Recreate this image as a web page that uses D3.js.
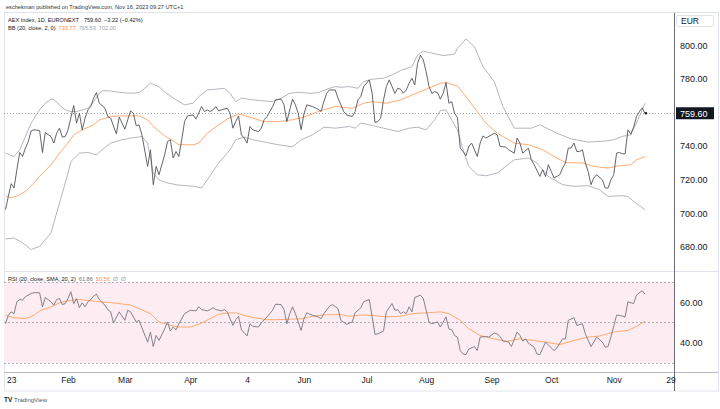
<!DOCTYPE html>
<html>
<head>
<meta charset="utf-8">
<script src="https://cdn.jsdelivr.net/npm/d3@7"></script>
<style>
body { margin: 0; background: #fff; }
text { font-family: "Liberation Sans", Arial, sans-serif; }
</style>
</head>
<body>
<svg id="chart" width="720" height="409"></svg>
<script>
// AEX daily close, bar index counted from Jan 2 2023 (trading days)
const closePoints = [[0,702.1],[1,710.0],[2,717.6],[3,715.0],[4,725.9],[5,736.2],[6,733.8],[7,738.8],[8,742.7],[9,749.1],[10,749.7],[12,749.3],[13,736.2],[14,748.1],[16,745.7],[17,741.8],[18,747.7],[19,750.7],[20,745.4],[21,745.7],[22,749.7],[24,764.2],[25,753.7],[26,759.6],[27,749.7],[28,756.7],[29,761.6],[30,763.6],[31,768.6],[32,771.9],[33,765.6],[35,762.6],[36,757.6],[37,756.7],[39,747.3],[40,757.3],[42,750.1],[43,755.7],[44,761.0],[45,759.6],[46,752.1],[47,752.7],[48,746.7],[50,727.9],[51,737.8],[52,717.0],[53,727.9],[54,722.9],[56,734.8],[57,742.7],[58,743.8],[59,732.9],[60,736.8],[61,733.8],[62,743.8],[63,754.6],[64,758.0],[66,758.6],[67,756.1],[69,763.6],[70,760.6],[71,761.6],[72,760.6],[73,761.6],[74,763.6],[75,761.0],[76,761.6],[78,762.6],[79,759.6],[80,750.7],[81,754.6],[82,758.0],[83,746.7],[84,744.8],[85,741.8],[86,751.7],[87,749.7],[89,748.7],[90,750.7],[91,755.7],[92,757.6],[94,763.6],[95,767.6],[97,768.0],[98,764.6],[99,754.6],[100,761.6],[101,768.0],[102,764.6],[103,759.6],[104,749.7],[105,759.2],[106,764.6],[108,763.6],[110,762.0],[111,760.6],[112,766.5],[113,771.5],[114,773.5],[116,773.5],[117,768.6],[119,760.6],[120,758.6],[122,757.6],[123,760.6],[124,767.6],[125,769.5],[126,775.5],[128,779.5],[129,771.5],[130,754.1],[131,754.6],[132,756.7],[133,767.6],[134,775.5],[135,779.5],[136,775.5],[137,771.5],[138,774.5],[139,773.9],[140,771.5],[141,773.5],[142,777.5],[143,780.5],[144,776.5],[145,789.4],[146,794.3],[147,791.4],[148,784.4],[149,775.5],[150,771.5],[151,772.5],[152,771.9],[153,768.0],[154,771.5],[155,777.9],[156,765.6],[157,766.5],[158,759.6],[159,757.0],[160,738.8],[161,736.8],[162,734.2],[163,739.8],[164,741.8],[166,733.8],[167,741.8],[168,746.1],[169,744.8],[171,746.7],[172,747.7],[173,746.7],[174,739.8],[176,739.4],[177,737.8],[179,735.8],[180,744.8],[181,741.8],[182,735.8],[184,738.8],[185,731.8],[186,728.9],[188,721.9],[189,725.9],[190,721.9],[191,728.9],[192,724.9],[193,721.0],[195,722.9],[196,726.9],[197,729.9],[198,738.8],[199,738.8],[200,741.8],[201,736.8],[202,736.8],[203,737.8],[204,729.9],[205,724.9],[206,717.0],[207,721.0],[208,722.9],[210,719.9],[211,715.0],[212,715.0],[213,719.9],[214,722.9],[215,735.8],[216,736.2],[217,735.4],[218,735.4],[219,749.7],[220,747.1],[221,751.3],[222,757.6],[223,760.5],[224,762.8],[225,759.6]];

// Bollinger bands (20, 2)
const upperPoints = [[0,735.8],[3,733.8],[5,737.8],[7,745.7],[9,753.7],[12,761.6],[14,765.6],[16,768.0],[17,767.6],[19,764.6],[21,761.6],[23,760.6],[25,760.6],[27,761.6],[29,762.6],[31,766.5],[33,771.5],[34,773.1],[37,772.9],[40,772.1],[44,771.5],[47,771.9],[49,774.5],[51,777.5],[54,775.5],[56,772.3],[60,767.6],[63,764.6],[66,765.6],[68,769.5],[71,773.5],[74,773.9],[77,774.5],[79,771.5],[81,766.5],[83,768.6],[87,767.6],[90,767.1],[94,766.5],[97,768.6],[100,771.5],[103,772.1],[107,771.5],[110,771.9],[114,774.5],[116,775.5],[118,775.1],[121,775.5],[124,774.5],[126,778.5],[129,779.9],[133,780.5],[136,782.4],[139,785.1],[143,787.4],[145,794.3],[147,796.7],[150,795.5],[154,794.0],[158,794.9],[159,798.3],[162,803.9],[165,799.3],[168,787.4],[172,778.3],[175,763.6],[179,750.7],[185,750.7],[188,752.7],[194,747.7],[199,744.3],[205,742.4],[211,743.0],[214,743.8],[217,745.8],[220,746.7],[222,753.7],[225,765.53]];
const basisPoints = [[0,710.4],[2,709.1],[5,711.0],[7,713.0],[10,718.0],[12,721.9],[16,728.9],[19,735.8],[22,741.8],[24,746.7],[27,749.7],[31,752.7],[33,755.7],[37,757.6],[40,758.0],[44,758.0],[47,758.0],[50,755.7],[52,751.7],[56,746.1],[58,744.2],[61,740.8],[66,740.8],[68,741.8],[71,747.7],[75,752.7],[78,756.1],[82,759.2],[87,756.7],[91,754.6],[96,754.6],[101,755.7],[105,757.3],[110,760.6],[116,763.6],[119,763.0],[122,762.6],[126,765.6],[129,766.5],[134,765.6],[139,767.6],[143,770.5],[148,773.9],[153,777.5],[155,777.9],[159,775.9],[162,769.5],[166,760.6],[169,753.7],[173,747.7],[176,744.8],[179,741.8],[184,740.8],[189,737.8],[193,733.8],[197,730.2],[203,729.9],[207,727.9],[212,726.9],[216,728.3],[220,728.9],[222,731.8],[225,733.77]];
const lowerPoints = [[0,684.6],[3,685.2],[6,682.3],[9,678.3],[12,680.2],[16,688.2],[18,700.1],[20,712.0],[22,723.9],[23,730.8],[26,735.8],[29,736.2],[32,734.8],[34,737.8],[37,741.8],[41,743.8],[44,744.8],[48,745.7],[50,741.8],[52,723.9],[54,719.9],[57,718.0],[61,716.7],[66,716.1],[69,715.0],[71,719.9],[75,729.9],[79,737.8],[81,743.8],[84,745.4],[87,743.8],[96,740.8],[101,739.6],[104,743.8],[108,746.7],[112,751.3],[116,750.7],[121,751.7],[123,750.7],[125,753.7],[128,752.7],[133,750.7],[138,748.7],[142,750.7],[145,751.3],[148,749.7],[151,755.7],[153,761.2],[155,761.6],[156,758.6],[159,749.7],[161,737.8],[163,727.9],[166,722.9],[169,722.3],[173,723.9],[176,727.9],[179,731.8],[184,732.9],[187,729.9],[191,721.9],[196,717.0],[200,716.0],[205,716.4],[209,714.0],[212,710.0],[217,710.4],[219,710.0],[221,707.0],[225,702.0]];

// RSI (20) and its SMA (20)
const rsiPoints = [[0,49.3],[1,53.5],[2,55.2],[3,54.3],[4,60.2],[5,61.3],[6,61.0],[7,62.7],[9,64.3],[10,64.7],[12,64.7],[13,57.7],[14,62.3],[16,60.2],[17,58.5],[18,61.3],[19,61.8],[20,58.8],[21,59.3],[22,61.8],[23,65.2],[24,59.3],[25,61.8],[26,57.3],[27,59.7],[28,57.7],[29,60.2],[30,61.3],[31,63.0],[32,64.0],[33,61.3],[35,58.5],[36,56.3],[37,55.2],[38,49.7],[40,55.2],[42,51.0],[43,56.0],[44,55.2],[46,50.2],[47,51.0],[48,47.3],[50,40.2],[51,45.2],[52,38.0],[53,43.5],[54,41.0],[56,46.8],[57,50.2],[58,45.7],[59,47.7],[60,46.3],[61,49.3],[63,54.3],[65,56.0],[67,55.7],[68,57.7],[69,56.3],[71,55.7],[72,56.3],[73,57.3],[74,56.3],[76,55.7],[77,56.3],[78,55.2],[80,48.5],[81,51.3],[82,53.0],[83,46.3],[85,43.3],[86,49.3],[87,48.0],[89,47.7],[90,49.7],[92,52.7],[94,56.0],[95,59.0],[97,58.8],[98,56.3],[99,49.3],[100,54.3],[101,57.7],[102,54.3],[104,46.0],[105,51.7],[106,54.7],[108,53.5],[110,52.7],[111,51.8],[112,54.3],[114,58.0],[115,58.8],[117,56.8],[118,51.0],[120,49.0],[122,50.2],[123,54.7],[125,57.2],[126,60.2],[128,61.3],[130,44.0],[131,44.3],[133,45.7],[134,55.2],[136,59.3],[137,56.0],[138,56.3],[139,54.3],[140,55.2],[141,54.3],[142,57.7],[143,55.2],[144,62.3],[146,63.5],[147,61.8],[148,56.0],[149,50.2],[150,49.3],[152,50.2],[153,47.7],[155,52.7],[156,46.8],[157,46.3],[158,43.5],[159,42.7],[160,36.0],[161,34.3],[162,34.0],[163,36.8],[165,38.0],[166,36.0],[167,42.7],[169,43.0],[170,42.7],[172,44.7],[173,44.3],[174,43.0],[175,40.7],[176,40.7],[177,40.2],[178,38.0],[180,45.2],[181,43.5],[182,40.7],[183,41.8],[184,39.7],[186,37.7],[187,34.3],[188,34.0],[190,40.2],[193,36.0],[194,37.3],[196,41.8],[197,41.8],[198,51.0],[200,52.3],[201,48.5],[203,49.3],[204,44.3],[206,38.0],[207,40.2],[208,42.7],[210,40.2],[211,37.7],[212,38.0],[213,42.7],[215,53.5],[216,53.5],[218,52.7],[219,60.2],[221,59.3],[222,63.5],[224,65.7],[225,64.0]];
const rsiMaPoints = [[0,53.5],[3,52.3],[7,51.8],[10,53.5],[12,55.7],[16,57.7],[19,59.7],[23,61.0],[26,61.3],[30,60.7],[33,60.2],[37,59.8],[40,59.3],[44,58.5],[47,56.8],[51,54.3],[54,50.2],[58,48.5],[61,47.7],[65,47.7],[68,49.0],[72,51.8],[75,54.0],[79,54.7],[81,54.7],[85,53.0],[88,52.2],[92,51.3],[95,51.3],[99,51.5],[104,51.8],[108,53.0],[113,53.8],[118,53.8],[121,53.0],[125,53.6],[129,53.5],[134,52.7],[139,53.0],[143,54.3],[148,54.7],[153,55.2],[156,54.3],[160,51.0],[163,46.8],[167,43.5],[172,41.8],[176,40.5],[181,41.8],[186,41.0],[190,40.2],[195,39.0],[200,41.0],[205,42.7],[209,43.2],[214,45.2],[219,46.0],[222,48.0],[225,50.56]];

const lastClose = 759.60;
const priceTicks = [680, 700, 720, 740, 780, 800];
const rsiTicks = [40, 60];
const rsiLevels = [70, 50, 30];
const timeBars = [0, 22, 42, 65, 85, 105, 127, 148, 171, 192, 214, 234];
const timeLabels = ["23", "Feb", "Mar", "Apr", "4", "Jun", "Jul", "Aug", "Sep", "Oct", "Nov", "29"];

const svg = d3.select("#chart");
const plotL = 4, plotR = 674, frameR = 718;
const priceTop = 13, priceBot = 271, rsiTop = 272, rsiBot = 372, timeBot = 391;
const txt = "#131722";

const x = d3.scaleLinear().domain([0, 225]).range([5.5, 645]);
const yP = d3.scaleLinear().domain([665.5, 819.4]).range([priceBot, priceTop]);
const yR = d3.scaleLinear().domain([25.4, 74.95]).range([rsiBot, rsiTop]);

const defs = svg.append("defs");
defs.append("clipPath").attr("id", "clipP").append("rect")
    .attr("x", plotL).attr("y", priceTop).attr("width", plotR - plotL).attr("height", priceBot - priceTop);
defs.append("clipPath").attr("id", "clipR").append("rect")
    .attr("x", plotL).attr("y", rsiTop).attr("width", plotR - plotL).attr("height", rsiBot - rsiTop);

// header
svg.append("text").attr("x", 6).attr("y", 9).attr("font-size", 5.6).attr("fill", "#333")
    .text("eschekman published on TradingView.com, Nov 16, 2023 09:27 UTC+1");

// frame
svg.append("rect").attr("x", plotL + 0.5).attr("y", priceTop - 0.5)
    .attr("width", frameR - plotL).attr("height", timeBot - priceTop + 0.5)
    .attr("fill", "none").attr("stroke", "#e0e3eb");

// RSI background band
svg.append("rect").attr("x", plotL).attr("width", plotR - plotL)
    .attr("y", yR(70)).attr("height", yR(30) - yR(70)).attr("fill", "#fdecf1");
svg.selectAll(".lvl").data(rsiLevels).enter().append("line")
    .attr("x1", plotL).attr("x2", plotR)
    .attr("y1", d => Math.round(yR(d)) + 0.5).attr("y2", d => Math.round(yR(d)) + 0.5)
    .attr("stroke", "#9a9ea8").attr("stroke-dasharray", "2,2").attr("stroke-width", 0.8);

// last price dotted line
svg.append("line").attr("x1", plotL).attr("x2", plotR)
    .attr("y1", Math.round(yP(lastClose)) + 0.5).attr("y2", Math.round(yP(lastClose)) + 0.5)
    .attr("stroke", "#8a8e98").attr("stroke-dasharray", "1,2").attr("stroke-width", 0.8);

const lineP = d3.line().x(d => x(d[0])).y(d => yP(d[1]));
const lineR = d3.line().x(d => x(d[0])).y(d => yR(d[1]));

const gP = svg.append("g").attr("clip-path", "url(#clipP)");
[[upperPoints, "#acaeb6"], [lowerPoints, "#acaeb6"], [basisPoints, "#ffa163"], [closePoints, "#50535b"]]
    .forEach(([pts, col]) => {
        gP.append("path").datum(pts).attr("d", lineP)
            .attr("fill", "none").attr("stroke", col).attr("stroke-width", 0.9);
    });
const lastPt = closePoints[closePoints.length - 1];
gP.append("circle").attr("cx", x(lastPt[0]) + 1).attr("cy", yP(lastPt[1])).attr("r", 1.2).attr("fill", txt);

const gR = svg.append("g").attr("clip-path", "url(#clipR)");
gR.append("path").datum(rsiMaPoints).attr("d", lineR)
    .attr("fill", "none").attr("stroke", "#ffab70").attr("stroke-width", 1);
gR.append("path").datum(rsiPoints).attr("d", lineR)
    .attr("fill", "none").attr("stroke", "#74777f").attr("stroke-width", 0.9);

// separators
svg.append("line").attr("x1", plotL).attr("x2", frameR).attr("y1", priceBot + 0.5).attr("y2", priceBot + 0.5).attr("stroke", "#e0e3eb");
svg.append("line").attr("x1", plotL).attr("x2", frameR).attr("y1", rsiBot + 0.5).attr("y2", rsiBot + 0.5).attr("stroke", "#b8bbc4");
svg.append("line").attr("x1", plotR + 0.5).attr("x2", plotR + 0.5).attr("y1", priceTop).attr("y2", timeBot).attr("stroke", "#6a6d78");

// axes
function styleAxis(g) {
    g.select(".domain").remove();
    g.attr("font-family", null).attr("font-size", null);
    g.selectAll("text").attr("fill", txt);
}
const gyP = svg.append("g").attr("transform", `translate(${plotR},0)`)
    .call(d3.axisRight(yP).tickValues(priceTicks).tickFormat(d3.format(".2f")).tickSize(0).tickPadding(6));
styleAxis(gyP); gyP.selectAll("text").attr("font-size", 9);

const gyR = svg.append("g").attr("transform", `translate(${plotR},0)`)
    .call(d3.axisRight(yR).tickValues(rsiTicks).tickFormat(d3.format(".2f")).tickSize(0).tickPadding(6));
styleAxis(gyR); gyR.selectAll("text").attr("font-size", 9);

const gx = svg.append("g").attr("transform", `translate(0,${rsiBot})`)
    .call(d3.axisBottom(x).tickValues(timeBars).tickFormat((d, i) => timeLabels[i]).tickSize(0).tickPadding(5));
styleAxis(gx); gx.selectAll("text").attr("font-size", 8.5);
gx.select(".tick text").attr("text-anchor", "start").attr("dx", 1);

// EUR box and last price label
svg.append("rect").attr("x", 676.5).attr("y", 15.5).attr("width", 37).attr("height", 11).attr("rx", 1.5)
    .attr("fill", "#fff").attr("stroke", "#e0e3eb");
svg.append("text").attr("x", 681).attr("y", 24).attr("font-size", 8.5).attr("fill", txt).text("EUR");
svg.append("rect").attr("x", 676).attr("y", yP(lastClose) - 6).attr("width", 38).attr("height", 12).attr("fill", "#131722");
svg.append("text").attr("x", 680).attr("y", yP(lastClose) + 3.3).attr("font-size", 9).attr("fill", "#fff").text(d3.format(".2f")(lastClose));

// legends
const leg1 = svg.append("text").attr("x", 8).attr("y", 21.5).attr("font-size", 5.6).attr("fill", txt);
leg1.append("tspan").text("AEX Index, 1D, EURONEXT");
leg1.append("tspan").attr("dx", 5).text("759.60");
leg1.append("tspan").attr("dx", 3).text("\u22123.22 (\u22120.42%)");

const leg2 = svg.append("text").attr("x", 8).attr("y", 29.5).attr("font-size", 5.6).attr("fill", txt);
leg2.append("tspan").text("BB (20, close, 2, 0)");
leg2.append("tspan").attr("dx", 3).attr("fill", "#ff8a3d").text("733.77");
leg2.append("tspan").attr("dx", 3).attr("fill", "#9a9ea8").text("765.53");
leg2.append("tspan").attr("dx", 3).attr("fill", "#9a9ea8").text("702.00");

const leg3 = svg.append("text").attr("x", 8).attr("y", 280.5).attr("font-size", 5.6).attr("fill", txt);
leg3.append("tspan").text("RSI (20, close, SMA, 20, 2)");
leg3.append("tspan").attr("dx", 3).attr("fill", "#6b6e76").text("61.86");
leg3.append("tspan").attr("dx", 3).attr("fill", "#ff8a3d").text("50.56");
leg3.append("tspan").attr("dx", 3).attr("fill", "#6b6e76").text("\u2205");
leg3.append("tspan").attr("dx", 3).attr("fill", "#6b6e76").text("\u2205");

// footer logo
svg.append("text").attr("x", 4).attr("y", 402).attr("font-size", 6.5).attr("font-weight", "bold").attr("fill", txt).text("TV");
svg.append("text").attr("x", 14).attr("y", 402).attr("font-size", 6).attr("fill", "#555").text("TradingView");
</script>
</body>
</html>
